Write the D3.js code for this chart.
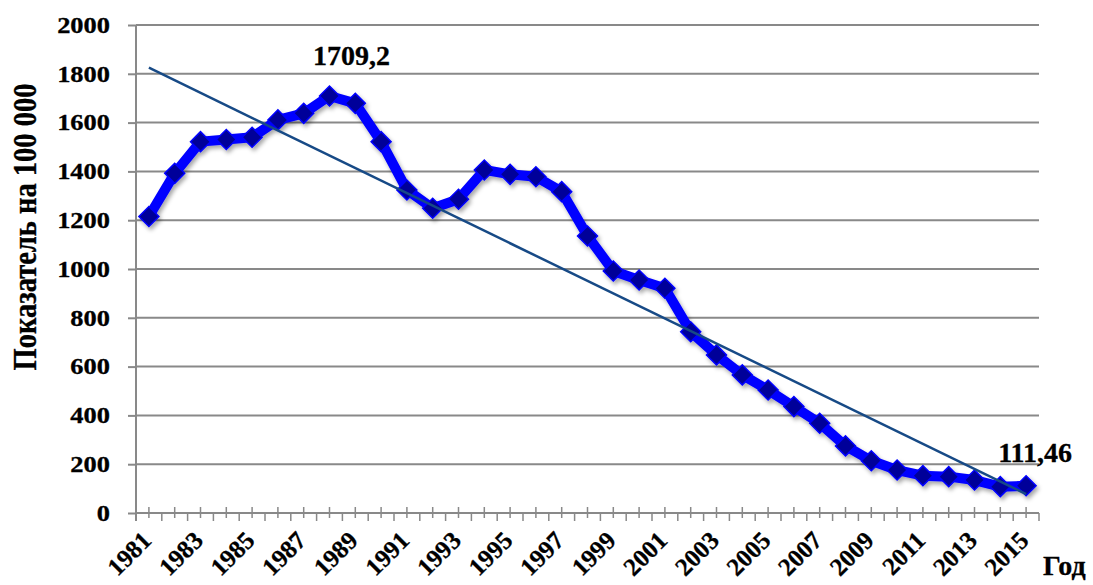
<!DOCTYPE html>
<html><head><meta charset="utf-8">
<script src="https://cdn.jsdelivr.net/npm/d3@7"></script>
<style>html,body{margin:0;padding:0;background:#fff;} svg{display:block;}</style>
</head><body>
<svg id="c" width="1093" height="585"></svg>
<script>
const years = d3.range(1981, 2016);
const values = [1215, 1392, 1522, 1531, 1540, 1611, 1638, 1709.2, 1679, 1522,
  1324, 1249, 1286, 1406, 1388, 1378, 1317, 1135, 992, 955,
  921, 743, 648, 566, 504, 436, 368, 275, 214, 176,
  153, 149, 135, 108, 111.46];
const yTicks = [0, 200, 400, 600, 800, 1000, 1200, 1400, 1600, 1800, 2000];
const xLabelYears = years.filter((d, i) => i % 2 === 0);
const annotations = [{year: 1988, value: 1709.2, text: "1709,2"}, {year: 2015, value: 111.46, text: "111,46"}];
const yTitle = "Показатель на 100 000";
const xTitle = "Год";

(function () {
const svg = d3.select("#c");
const FONT = "'Liberation Serif','Times New Roman',serif";
const SX = 1.15;
const pL = 136, pR = 1039, pT = 25, pB = 513;
const x = d3.scaleBand().domain(years).range([pL, pR]).padding(0);
const cx = d => x(d) + x.bandwidth() / 2;
const y = d3.scaleLinear().domain([0, 2000]).range([pB, pT]);
const gridColor = "#898989";

const defs = svg.append("defs");
const f = defs.append("filter").attr("id", "sh").attr("x", "-20%").attr("y", "-20%").attr("width", "140%").attr("height", "140%");
f.append("feDropShadow").attr("dx", 2).attr("dy", 3).attr("stdDeviation", 2).attr("flood-color", "#000").attr("flood-opacity", 0.35);

// gridlines
svg.append("g").selectAll("line").data(yTicks.filter(d => d > 0)).join("line")
  .attr("x1", pL).attr("x2", pR).attr("y1", d => y(d)).attr("y2", d => y(d))
  .attr("stroke", gridColor).attr("stroke-width", 2);

// y axis
const ya = svg.append("g").attr("transform", `translate(${pL},0)`)
  .call(d3.axisLeft(y).tickValues(yTicks).tickSize(8).tickPadding(18).tickFormat(d3.format("d")));
ya.select(".domain").remove();
ya.append("line").attr("x1", 0).attr("x2", 0).attr("y1", pT).attr("y2", pB + 8).attr("stroke", gridColor).attr("stroke-width", 2);
ya.selectAll(".tick line").attr("stroke", gridColor).attr("stroke-width", 2);
ya.selectAll(".tick text").attr("font-family", FONT).attr("font-weight", "bold").attr("font-size", 23).attr("fill", "#000")
  .attr("stroke", "#000").attr("stroke-width", 0.3)
  .attr("transform", `scale(${SX},1)`).attr("x", -26 / SX);

// x axis
const xa = svg.append("g");
xa.append("line").attr("x1", pL).attr("x2", pR).attr("y1", pB).attr("y2", pB).attr("stroke", gridColor).attr("stroke-width", 2);
xa.selectAll(".tc").data(years).join("line").attr("class", "tc")
  .attr("x1", d => cx(d)).attr("x2", d => cx(d)).attr("y1", pB - 6).attr("y2", pB + 5)
  .attr("stroke", gridColor).attr("stroke-width", 1.5);
xa.selectAll(".tb").data(years.concat([null])).join("line").attr("class", "tb")
  .attr("x1", (d, i) => pL + i * x.bandwidth()).attr("x2", (d, i) => pL + i * x.bandwidth())
  .attr("y1", pB).attr("y2", pB + 8)
  .attr("stroke", gridColor).attr("stroke-width", 1.5);
xa.selectAll(".xl").data(xLabelYears).join("text").attr("class", "xl")
  .attr("transform", d => `translate(${cx(d) + 4},${pB + 29}) rotate(-45)`)
  .attr("text-anchor", "end")
  .attr("font-family", FONT).attr("font-weight", "bold").attr("font-size", 25)
  .attr("stroke", "#000").attr("stroke-width", 0.3).text(d => d);

// titles
svg.append("text").attr("transform", `translate(36,227) scale(${SX},1) rotate(-90)`)
  .attr("text-anchor", "middle").attr("font-family", FONT).attr("font-weight", "bold").attr("font-size", 28.5)
  .attr("stroke", "#000").attr("stroke-width", 0.3).text(yTitle);
svg.append("text").attr("transform", `translate(1043,575)`)
  .attr("font-family", FONT).attr("font-weight", "bold").attr("font-size", 28)
  .attr("stroke", "#000").attr("stroke-width", 0.3).text(xTitle);

// data line
const line = d3.line().x((d, i) => cx(years[i])).y(d => y(d));
const g = svg.append("g").attr("filter", "url(#sh)");
g.append("path").datum(values).attr("d", line).attr("fill", "none")
  .attr("stroke", "#0000ff").attr("stroke-width", 10).attr("stroke-linejoin", "round");
g.selectAll(".m").data(values).join("path").attr("class", "m")
  .attr("d", d3.symbol(d3.symbolSquare, 200))
  .attr("transform", (d, i) => `translate(${cx(years[i])},${y(d)}) rotate(45)`)
  .attr("fill", "#000099").attr("stroke", "#0000ff").attr("stroke-width", 1.5);

// linear trend (least squares on the data)
const n = values.length;
const xm = d3.mean(d3.range(n)), vm = d3.mean(values);
const slope = d3.sum(values, (v, i) => (i - xm) * (v - vm)) / d3.sum(d3.range(n), i => (i - xm) ** 2);
const icpt = vm - slope * xm;
svg.append("line")
  .attr("x1", cx(years[0])).attr("y1", y(icpt))
  .attr("x2", cx(years[n - 1])).attr("y2", y(icpt + slope * (n - 1)))
  .attr("stroke", "#174a86").attr("stroke-width", 2.5);

// annotations
svg.selectAll(".an").data(annotations).join("text").attr("class", "an")
  .attr("transform", (d, i) => `translate(${cx(d.year) + (i === 0 ? 22 : 9)},${i === 0 ? 65 : 462})`)
  .attr("text-anchor", "middle").attr("font-family", FONT).attr("font-weight", "bold").attr("font-size", 28)
  .attr("stroke", "#000").attr("stroke-width", 0.3).text(d => d.text);
})();
</script>
</body></html>
